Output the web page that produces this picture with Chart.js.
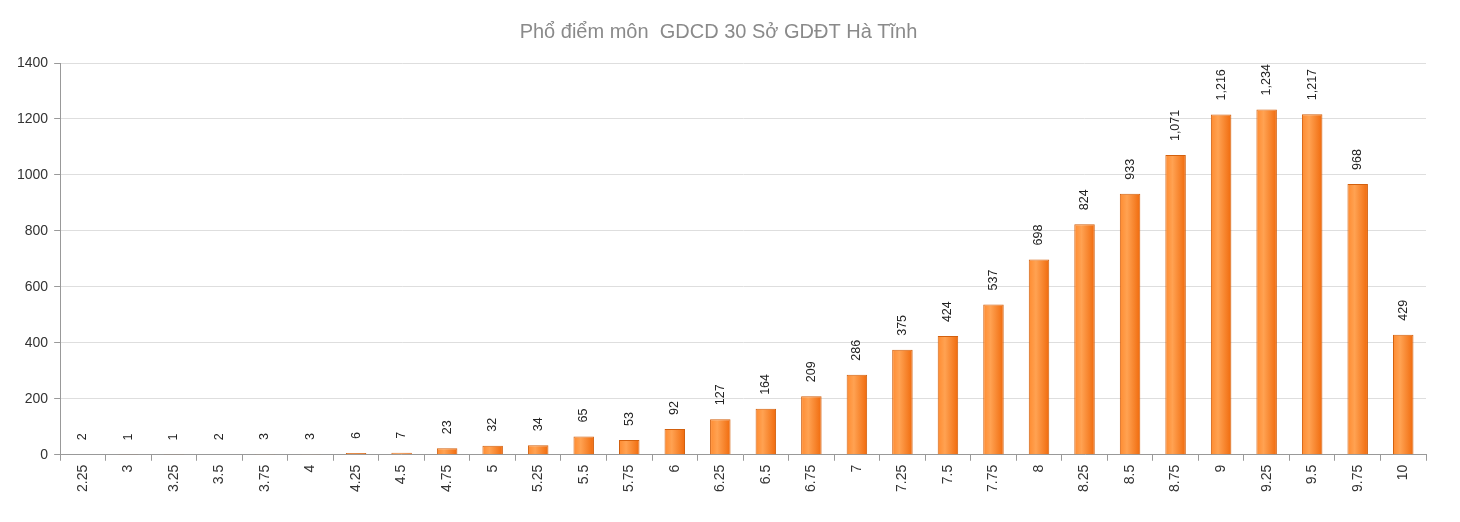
<!DOCTYPE html>
<html><head><meta charset="utf-8">
<script src="https://cdn.jsdelivr.net/npm/chart.js@4"></script>
<style>html,body{margin:0;padding:0;background:#fff}#wrap{width:1460px;height:522px}</style>
</head><body><div id="wrap"><canvas id="c" width="1460" height="522"></canvas></div>
<script>
const categories = ["2.25","3","3.25","3.5","3.75","4","4.25","4.5","4.75","5","5.25","5.5","5.75","6","6.25","6.5","6.75","7","7.25","7.5","7.75","8","8.25","8.5","8.75","9","9.25","9.5","9.75","10"];
const counts = [2,1,1,2,3,3,6,7,23,32,34,65,53,92,127,164,209,286,375,424,537,698,824,933,1071,1216,1234,1217,968,429];
const yTicks = [0,200,400,600,800,1000,1200,1400];
const titleText = "Phổ điểm môn  GDCD 30 Sở GDĐT Hà Tĩnh";
const FONT = '"Liberation Sans", Arial, sans-serif';

const gradPlugin = {
  id: 'grad',
  beforeDatasetsDraw(chart) {
    const ctx = chart.ctx;
    chart.getDatasetMeta(0).data.forEach(bar => {
      const w = bar.width;
      const g = ctx.createLinearGradient(bar.x - w/2, 0, bar.x + w/2, 0);
      g.addColorStop(0, '#ff8b30');
      g.addColorStop(0.35, '#ffa252');
      g.addColorStop(1, '#f06a0c');
      bar.options = Object.assign(Object.create(Object.getPrototypeOf(bar.options)), bar.options, { backgroundColor: g });
    });
  }
};
const labelPlugin = {
  id: 'vlabels',
  afterDatasetsDraw(chart) {
    const ctx = chart.ctx;
    ctx.save();
    ctx.font = '12.5px ' + FONT;
    ctx.fillStyle = '#222';
    ctx.textAlign = 'left';
    ctx.textBaseline = 'middle';
    chart.getDatasetMeta(0).data.forEach((bar, i) => {
      ctx.save();
      ctx.translate(bar.x, bar.y - 14);
      ctx.rotate(-Math.PI/2);
      ctx.fillText(counts[i].toLocaleString('en-US'), 0, 0);
      ctx.restore();
    });
    ctx.restore();
  }
};

new Chart(document.getElementById('c'), {
  type: 'bar',
  data: { labels: categories, datasets: [{ data: counts, borderColor: '#d2600e', borderWidth: 1, backgroundColor: '#ff9030', barPercentage: 0.45, categoryPercentage: 1 }] },
  options: {
    responsive: false, animation: false,
    layout: { padding: { left: 11, right: 34, top: 0, bottom: 26 } },
    plugins: {
      legend: { display: false }, tooltip: { enabled: false },
      title: { display: true, text: titleText, color: '#8a8a8a', font: { family: FONT, size: 20, weight: 'normal' }, padding: { top: 20, bottom: 19 } }
    },
    scales: {
      x: {
        grid: { display: true, drawOnChartArea: false, offset: true, color: '#999', tickLength: 6 },
        border: { color: '#999' },
        ticks: { maxRotation: 90, minRotation: 90, color: '#333', font: { family: FONT, size: 14 }, padding: 4 }
      },
      y: {
        min: 0, max: 1400,
        afterBuildTicks(axis) { axis.ticks = yTicks.map(v => ({ value: v })); },
        grid: { color: '#dedede', tickLength: 6, tickColor: '#999' },
        border: { color: '#999' },
        ticks: { color: '#333', font: { family: FONT, size: 14 }, padding: 6, callback: v => String(v) }
      }
    }
  },
  plugins: [gradPlugin, labelPlugin]
});
</script></body></html>
